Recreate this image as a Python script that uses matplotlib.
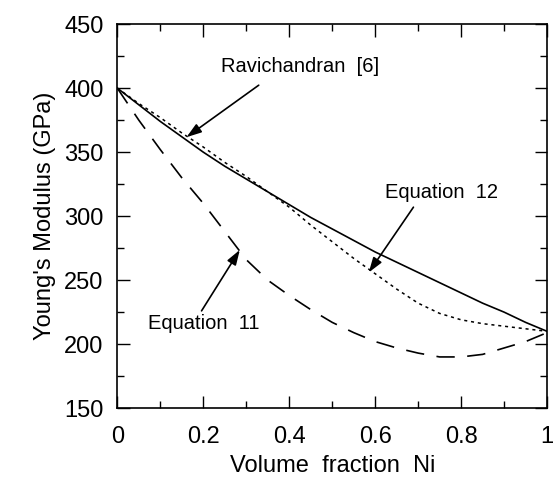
import matplotlib
matplotlib.use("Agg")
import matplotlib.pyplot as plt
from matplotlib.ticker import MultipleLocator

plt.rcParams['font.family'] = ['Liberation Sans', 'DejaVu Sans']

# Volume fraction Ni
x = [0.00, 0.05, 0.10, 0.15, 0.20, 0.25, 0.30, 0.35, 0.40, 0.45, 0.50,
     0.55, 0.60, 0.65, 0.70, 0.75, 0.80, 0.85, 0.90, 0.95, 1.00]
# Ravichandran [6] (solid)
ravichandran = [400, 387, 374, 362, 350, 339, 329, 319, 309, 299, 290,
                281, 272, 264, 256, 248, 240, 232, 225, 217, 210]
# Equation 12 (dotted)
equation12 = [400, 388, 377, 365, 354, 342, 331, 319, 307, 293, 280,
              267, 255, 243, 232, 224, 219, 216, 214, 212, 210]
# Equation 11 (dashed)
equation11 = [400, 375, 352, 330, 310, 288, 266, 250, 238, 227, 217,
              209, 202, 197, 193, 190, 190, 192, 197, 202, 209]

xticks = [0, 0.2, 0.4, 0.6, 0.8, 1.0]
xticklabels = ['0', '0.2', '0.4', '0.6', '0.8', '1']

fig = plt.figure(figsize=(5.56, 4.83), dpi=100)
ax = fig.add_axes([0.211, 0.155, 0.773, 0.795])

ax.plot(x, ravichandran, color='black', lw=1.2, linestyle='-')
ax.plot(x, equation12, color='black', lw=1.1, linestyle=(0, (2.0, 2.5)))
ax.plot(x, equation11, color='black', lw=1.2, linestyle=(0, (11, 7.5)))

ax.set_xlim(0, 1)
ax.set_ylim(150, 450)
ax.xaxis.set_minor_locator(MultipleLocator(0.1))
ax.yaxis.set_major_locator(MultipleLocator(50))
ax.yaxis.set_minor_locator(MultipleLocator(25))
ax.set_xticks(xticks)
ax.set_xticklabels(xticklabels)

ax.tick_params(which='both', direction='in', top=True, right=True,
               labelsize=17, width=1.0, colors='black')
ax.tick_params(which='major', length=9)
ax.tick_params(which='minor', length=5)
ax.tick_params(axis='x', which='major', pad=13)
ax.tick_params(axis='y', which='major', pad=10)
for s in ax.spines.values():
    s.set_linewidth(1.2)

ax.set_xlabel('Volume  fraction  Ni', fontsize=17, labelpad=5)
ax.set_ylabel("Young's Modulus (GPa)", fontsize=17, labelpad=6)

arrow = dict(arrowstyle='-|>,head_length=0.9,head_width=0.3', color='black',
             lw=1.2, shrinkA=0, shrinkB=0)
ax.text(0.241, 417, 'Ravichandran  [6]', fontsize=14.5, ha='left', va='center')
ax.annotate('', xy=(0.161, 361.7), xytext=(0.329, 402.3), arrowprops=arrow)
ax.text(0.755, 318.7, 'Equation  12', fontsize=14.5, ha='center', va='center')
ax.annotate('', xy=(0.585, 256), xytext=(0.689, 307), arrowprops=arrow)
ax.text(0.200, 216, 'Equation  11', fontsize=14.5, ha='center', va='center')
ax.annotate('', xy=(0.285, 273.6), xytext=(0.196, 226), arrowprops=arrow)

fig.savefig('out.png', dpi=100)
